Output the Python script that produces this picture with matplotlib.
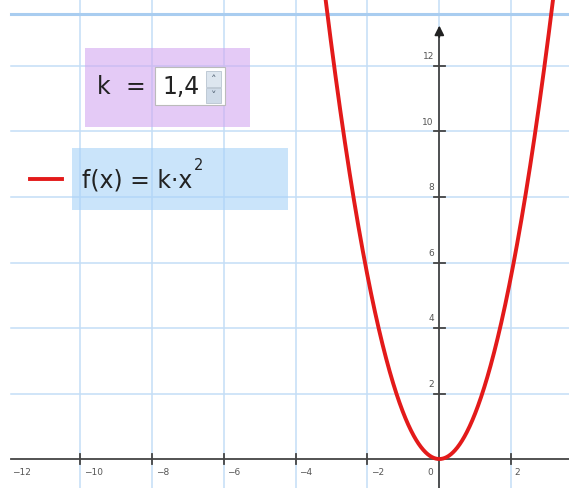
import numpy as np
import matplotlib
matplotlib.use("Agg")
import matplotlib.pyplot as plt
from matplotlib.patches import Rectangle

# ---- data ----
k = 1.4
x_ticks = [-10, -8, -6, -4, -2, 2]
x_tick_labels = ["\u221212", "\u221210", "\u22128", "\u22126", "\u22124", "\u22122", "2"]
x_label_pos = [-12, -10, -8, -6, -4, -2, 2]
y_ticks = [2, 4, 6, 8, 10, 12]
k_label = "1,4"
func_label = "f(x) = k\u00b7x"

W, H = 569, 488
fig = plt.figure(figsize=(W / 100, H / 100), dpi=100)
ax = fig.add_axes([0, 0, 1, 1])
ax.set_xlim(-12.23, 3.61)
ax.set_ylim(-0.885, 14.015)
ax.axis("off")

def fx(px):
    return px / W

def fy(py):
    return 1 - py / H

left_frac = 11 / W
grid_c = "#c4def6"
# grid
for gx in range(-10, 4, 2):
    ax.axvline(gx, color=grid_c, lw=1.1, zorder=1)
for gy in range(2, 14, 2):
    ax.axhline(gy, xmin=left_frac, color=grid_c, lw=1.1, zorder=1)
# top border line
ax.axhline(13.59, xmin=left_frac, color="#a9cdf0", lw=2.2, zorder=1)

axis_c = "#444444"
# axes
ax.axhline(0, xmin=left_frac, color=axis_c, lw=1.3, zorder=3)
ax.plot([0, 0], [-0.885, 13.0], color=axis_c, lw=1.3, zorder=3)
ax.annotate("", xy=(0, 13.32), xytext=(0, 12.8),
            arrowprops=dict(arrowstyle="-|>", color="#222222", lw=1.3,
                            mutation_scale=14), zorder=3)

# ticks
for t in x_ticks:
    ax.plot([t, t], [-0.16, 0.16], color=axis_c, lw=1.3, zorder=3)
for t, lab in zip(x_label_pos, x_tick_labels):
    ax.text(t + 0.1, -0.4, lab, fontsize=6.5, color="#555555",
            ha="left", va="center", zorder=3)
ax.text(-0.18, -0.4, "0", fontsize=6.5, color="#555555",
        ha="right", va="center", zorder=3)
for t in y_ticks:
    ax.plot([-0.16, 0.16], [t, t], color=axis_c, lw=1.3, zorder=3)
    ax.text(-0.15, t + 0.28, str(t), fontsize=6.5, color="#555555",
            ha="right", va="center", zorder=3)

# parabola
xs = np.linspace(-3.3, 3.3, 600)
ax.plot(xs, k * xs ** 2, color="#e31a1a", lw=2.8, zorder=4)

txt_c = "#222222"
fam = "DejaVu Sans"
# purple slider box
fig.patches.append(Rectangle((fx(85), fy(127)), (250 - 85) / W, (127 - 48) / H,
                             transform=fig.transFigure, facecolor="#d2a8f0",
                             alpha=0.6, edgecolor="none", zorder=5))
fig.text(fx(97), fy(87), "k", fontsize=17, family=fam,
         color=txt_c, ha="left", va="center", zorder=6)
fig.text(fx(125), fy(87), "=", fontsize=17, family=fam,
         color=txt_c, ha="left", va="center", zorder=6)
fig.patches.append(Rectangle((fx(155), fy(105)), (225 - 155) / W, (105 - 67) / H,
                             transform=fig.transFigure, facecolor="white",
                             edgecolor="#bbbbbb", lw=0.8, zorder=6))
fig.text(fx(162), fy(87), k_label, fontsize=17, family=fam,
         color=txt_c, ha="left", va="center", zorder=7)
# spinner
fig.patches.append(Rectangle((fx(206), fy(87)), 15 / W, 16 / H,
                             transform=fig.transFigure, facecolor="#dde6ef",
                             edgecolor="#b8c4d0", lw=0.6, zorder=7))
fig.patches.append(Rectangle((fx(206), fy(103)), 15 / W, 15 / H,
                             transform=fig.transFigure, facecolor="#cfdbe8",
                             edgecolor="#b8c4d0", lw=0.6, zorder=7))
fig.text(fx(213.5), fy(80), "\u02c4", fontsize=8, color="#556677",
         ha="center", va="center", zorder=8)
fig.text(fx(213.5), fy(96), "\u02c5", fontsize=8, color="#556677",
         ha="center", va="center", zorder=8)

# blue function box
fig.patches.append(Rectangle((fx(72), fy(210)), (288 - 72) / W, (210 - 148) / H,
                             transform=fig.transFigure, facecolor="#a8d2f8",
                             alpha=0.6, edgecolor="none", zorder=5))
fig.text(fx(82), fy(180), func_label, fontsize=17, family=fam,
         color=txt_c, ha="left", va="center", zorder=6)
fig.text(fx(194), fy(166), "2", fontsize=10.5, family=fam,
         color=txt_c, ha="left", va="center", zorder=6)
fig.lines.append(plt.Line2D([fx(30), fx(62)], [fy(179), fy(179)],
                            transform=fig.transFigure, color="#e31a1a",
                            lw=2.8, zorder=6))

fig.savefig("out.png", dpi=100)
